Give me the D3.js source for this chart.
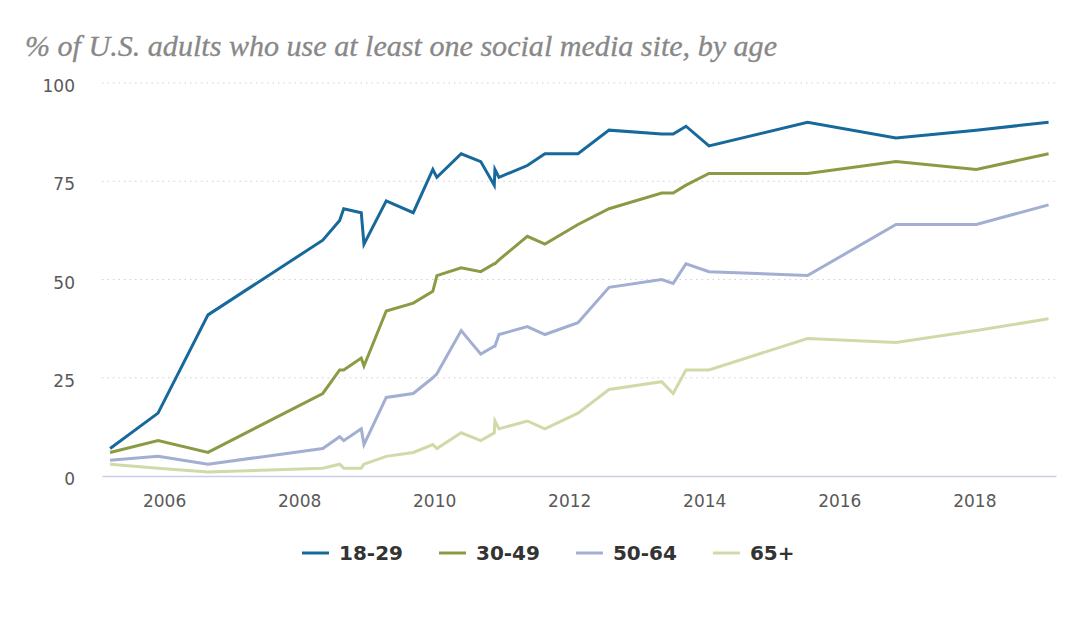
<!DOCTYPE html>
<html>
<head>
<meta charset="utf-8">
<script src="https://cdn.jsdelivr.net/npm/d3@7/dist/d3.min.js"></script>
<style>
  html, body { margin: 0; padding: 0; background: #ffffff; }
  svg { display: block; }
</style>
</head>
<body>
<svg id="chart" width="1080" height="620"></svg>
<script>
// ---- data ----
const titleText = "% of U.S. adults who use at least one social media site, by age";
const surveyDates = [2005.20, 2005.91, 2006.65, 2008.35, 2008.60, 2008.66, 2008.92, 2008.96,
  2009.29, 2009.69, 2009.98, 2010.04, 2010.40, 2010.69, 2010.89, 2010.90, 2010.96,
  2011.38, 2011.64, 2012.13, 2012.59, 2013.37, 2013.54, 2013.73, 2014.07, 2015.53,
  2016.84, 2018.03, 2019.10];
const ages18to29 = [7, 16, 41, 60, 65, 68, 67, 59, 70, 67, 78, 76, 82, 80, 74, 78, 76, 79, 82, 82, 88, 87, 87, 89, 84, 90, 86, 88, 90];
const ages30to49 = [6, 9, 6, 21, 27, 27, 30, 28, 42, 44, 47, 51, 53, 52, 54, 54, 55, 61, 59, 64, 68, 72, 72, 74, 77, 77, 80, 78, 82];
const ages50to64 = [4, 5, 3, 7, 10, 9, 12, 8, 20, 21, 25, 26, 37, 31, 33, 33, 36, 38, 36, 39, 48, 50, 49, 54, 52, 51, 64, 64, 69];
const ages65plus = [3, 2, 1, 2, 3, 2, 2, 3, 5, 6, 8, 7, 11, 9, 11, 14, 12, 14, 12, 16, 22, 24, 21, 27, 27, 35, 34, 37, 40];
const seriesNames = ["18-29", "30-49", "50-64", "65+"];
const xTickYears = [2006, 2008, 2010, 2012, 2014, 2016, 2018];
const yTickValues = [0, 25, 50, 75, 100];

// ---- styles ----
const colors = ["#17699b", "#8a9b45", "#a2aed2", "#d0daa8"];
const seriesValues = [ages18to29, ages30to49, ages50to64, ages65plus];

const svg = d3.select("#chart");

const x = d3.scaleLinear().domain([2005.08, 2019.21]).range([102, 1056]);
const y = d3.scaleLinear().domain([0, 100]).range([476, 83]);

// title
svg.append("text")
  .attr("x", 25).attr("y", 56)
  .attr("font-family", "'Liberation Serif', serif")
  .attr("font-style", "italic")
  .attr("font-size", 29)
  .attr("fill", "#888888")
  .attr("stroke", "#888888")
  .attr("stroke-width", 0.3)
  .attr("textLength", 752)
  .attr("lengthAdjust", "spacingAndGlyphs")
  .text(titleText);

// gridlines (dotted)
const grid = svg.append("g");
grid.selectAll("line")
  .data(yTickValues.filter(v => v > 0))
  .join("line")
  .attr("x1", x.range()[0]).attr("x2", x.range()[1])
  .attr("y1", d => y(d)).attr("y2", d => y(d))
  .attr("stroke", "#d0d0d0")
  .attr("stroke-width", 1)
  .attr("stroke-dasharray", "1.5,4");

// y axis labels
const yAxis = d3.axisLeft(y).tickValues(yTickValues).tickSize(0).tickPadding(0);
const gy = svg.append("g").attr("transform", "translate(75,0)").call(yAxis);
gy.select(".domain").remove();
gy.selectAll("text")
  .attr("font-family", "'DejaVu Sans', sans-serif")
  .attr("font-size", 17)
  .attr("fill", "#595959")
  .attr("dy", "0.5em");

// x axis
const xAxis = d3.axisBottom(x).tickValues(xTickYears).tickFormat(d3.format("d")).tickSize(0).tickPadding(0);
const gx = svg.append("g").attr("transform", "translate(0,476)").call(xAxis);
gx.select(".domain").attr("stroke", "#c9cfe6").attr("stroke-width", 1.5);
gx.selectAll("text")
  .attr("font-family", "'DejaVu Sans', sans-serif")
  .attr("font-size", 17)
  .attr("fill", "#595959")
  .attr("dy", "1.85em");

// lines
const line = d3.line()
  .x((d, i) => x(surveyDates[i]))
  .y(d => y(d));

const order = [3, 2, 1, 0];
svg.append("g").selectAll("path")
  .data(order)
  .join("path")
  .attr("d", k => line(seriesValues[k]))
  .attr("fill", "none")
  .attr("stroke", k => colors[k])
  .attr("stroke-width", 3)
  .attr("stroke-linejoin", "miter")
  .attr("stroke-linecap", "butt");

// legend
const legend = svg.append("g");
let lx = 302;
const ly = 553;
seriesNames.forEach((name, k) => {
  legend.append("line")
    .attr("x1", lx).attr("x2", lx + 27)
    .attr("y1", ly).attr("y2", ly)
    .attr("stroke", colors[k]).attr("stroke-width", 3);
  const t = legend.append("text")
    .attr("x", lx + 37).attr("y", ly)
    .attr("dy", "0.36em")
    .attr("font-family", "'DejaVu Sans', sans-serif")
    .attr("font-weight", "bold")
    .attr("font-size", 20)
    .attr("fill", "#333333")
    .text(name);
  lx += 37 + t.node().getComputedTextLength() + 36;
});
</script>
</body>
</html>
